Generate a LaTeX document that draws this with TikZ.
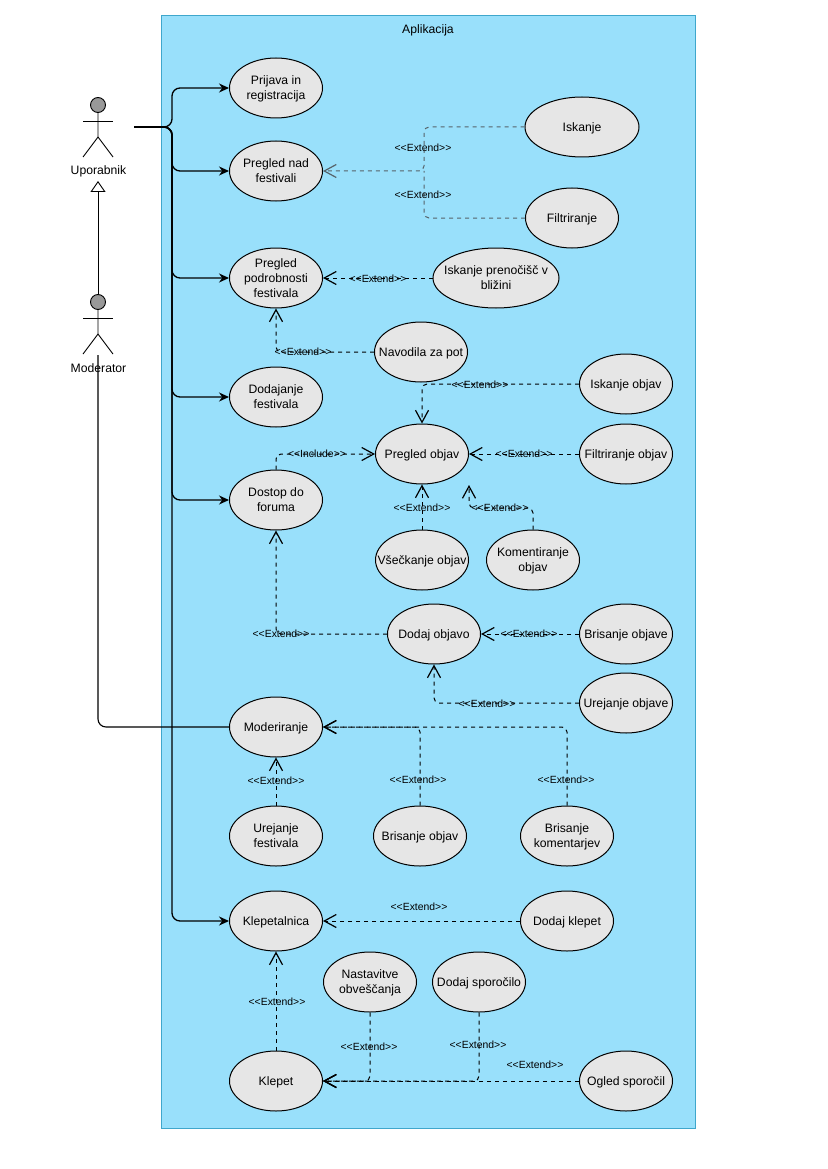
\documentclass[tikz,border=0pt]{standalone}
\usepackage{fontspec}
\setmainfont{Liberation Sans}
\usetikzlibrary{arrows.meta,shapes.geometric}
\definecolor{appblue}{HTML}{99E0FB}
\definecolor{appline}{HTML}{3FA7CC}
\definecolor{casegray}{HTML}{E6E6E6}
\definecolor{headgray}{HTML}{999999}
\definecolor{dimline}{HTML}{56636A}
\newcommand{\extendtxt}{<{}<Extend>{}>}
\newcommand{\includetxt}{<{}<Include>{}>}
\begin{document}
\begin{tikzpicture}[x=1pt,y=-1pt]

    % Styles
    \tikzstyle{usecase} = [ellipse, minimum width=93pt, minimum height=60pt, inner sep=-20pt, text depth=0pt, align=center, draw=black, fill=casegray, line width=1pt, font=\fontsize{12.2}{15}\selectfont]
    \tikzstyle{system} = [rectangle, minimum width=534pt, minimum height=1113pt, draw=appline, fill=appblue, line width=0.8pt]
    \tikzstyle{actorhead} = [circle, minimum size=15pt, inner sep=0pt, draw=black, fill=headgray, line width=0.9pt]
    \tikzstyle{actorname} = [inner sep=0pt, font=\fontsize{12.2}{15}\selectfont]
    \tikzstyle{tag} = [inner sep=0pt, font=\fontsize{10.4}{12}\selectfont]
    \tikzstyle{stick} = [line width=0.9pt]
    \tikzstyle{assoc} = [line width=1.3pt, rounded corners=8pt, -{Stealth[length=10pt,width=9pt]}]
    \tikzstyle{plain} = [line width=1.1pt, rounded corners=8pt]
    \tikzstyle{extendline} = [line width=1pt, rounded corners=5pt, dash pattern=on 4pt off 4pt]
    \tikzstyle{extend} = [extendline, -{Straight Barb[length=12pt,width=13pt,line width=1.2pt]}]
    \tikzstyle{general} = [line width=0.9pt, -{Triangle[open,fill=white,length=11pt,width=15pt]}]

    \useasboundingbox (0,0) rectangle (827,1169);

    % Frame
    \node (app) [system] at (428,571.5) {};
    \node (app-name) [actorname] at (428,30) {Aplikacija};

    % Nodes
    \node (prijava) [usecase] at (276,88) {Prijava in\\registracija};
    \node (pregled-nad) [usecase] at (276,171) {Pregled nad\\festivali};
    \node (podrobnosti) [usecase] at (276,278) {Pregled\\podrobnosti\\festivala};
    \node (dodajanje) [usecase] at (276,397) {Dodajanje\\festivala};
    \node (dostop) [usecase] at (276,500) {Dostop do\\foruma};
    \node (moderiranje) [usecase] at (276,727) {Moderiranje};
    \node (urejanje-fest) [usecase] at (276,836) {Urejanje\\festivala};
    \node (klepetalnica) [usecase] at (276,921) {Klepetalnica};
    \node (klepet) [usecase] at (276,1081) {Klepet};
    \node (iskanje) [usecase, minimum width=114pt] at (582,127) {Iskanje};
    \node (filtriranje) [usecase] at (572,218) {Filtriranje};
    \node (prenocisca) [usecase, minimum width=126pt] at (496,278) {Iskanje prenočišč v\\bližini};
    \node (navodila) [usecase] at (421,352) {Navodila za pot};
    \node (iskanje-obj) [usecase] at (626,384) {Iskanje objav};
    \node (pregled-obj) [usecase] at (422,454) {Pregled objav};
    \node (filter-obj) [usecase] at (626,454) {Filtriranje objav};
    \node (vseckanje) [usecase] at (422,560) {Všečkanje objav};
    \node (komentiranje) [usecase] at (533,560) {Komentiranje\\objav};
    \node (dodaj-obj) [usecase] at (434,634) {Dodaj objavo};
    \node (brisanje-obj) [usecase] at (626,634) {Brisanje objave};
    \node (urejanje-obj) [usecase] at (626,703) {Urejanje objave};
    \node (brisanje-objav) [usecase] at (420,836) {Brisanje objav};
    \node (brisanje-kom) [usecase] at (567,836) {Brisanje\\komentarjev};
    \node (dodaj-klepet) [usecase] at (567,921) {Dodaj klepet};
    \node (nastavitve) [usecase] at (370,982) {Nastavitve\\obveščanja};
    \node (dodaj-sporocilo) [usecase] at (479,982) {Dodaj sporočilo};
    \node (ogled) [usecase] at (626,1081) {Ogled sporočil};

    % Actors
    \node (uporabnik) [actorhead] at (98,105) {};
    \coordinate (upo-hip) at (98,137);
    \coordinate (upo-arm-l) at (83,121);
    \coordinate (upo-arm-r) at (113,121);
    \coordinate (upo-foot-l) at (83,157);
    \coordinate (upo-foot-r) at (113,157);
    \draw [stick] (uporabnik) -- (upo-hip) -- (upo-foot-l);
    \draw [stick] (upo-hip) -- (upo-foot-r);
    \draw [stick] (upo-arm-l) -- (upo-arm-r);
    \node (upo-name) [actorname] at (98.5,171) {Uporabnik};

    \node (moderator) [actorhead] at (98,302) {};
    \coordinate (mod-hip) at (98,334);
    \coordinate (mod-arm-l) at (83,318);
    \coordinate (mod-arm-r) at (113,318);
    \coordinate (mod-foot-l) at (83,354);
    \coordinate (mod-foot-r) at (113,354);
    \draw [stick] (moderator) -- (mod-hip) -- (mod-foot-l);
    \draw [stick] (mod-hip) -- (mod-foot-r);
    \draw [stick] (mod-arm-l) -- (mod-arm-r);
    \node (mod-name) [actorname] at (98.5,368) {Moderator};

    % Helpers
    \coordinate (upo-out) at (134,127);
    \coordinate (bus) at (172,127);
    \coordinate (upo-tip) at (98,181);
    \coordinate (mod-out) at (98,355);
    \coordinate (iskanje-jn) at (424,171);
    \coordinate (kom-jn) at (469,508);
    \coordinate (kom-tip) at (469,485);

    % Arrows
    \draw [assoc] (upo-out) -- (bus) |- (prijava);
    \draw [assoc] (upo-out) -- (bus) |- (pregled-nad);
    \draw [assoc] (upo-out) -- (bus) |- (podrobnosti);
    \draw [assoc] (upo-out) -- (bus) |- (dodajanje);
    \draw [assoc] (upo-out) -- (bus) |- (dostop);
    \draw [assoc] (upo-out) -- (bus) |- (klepetalnica);
    \draw [plain] (mod-out) |- (moderiranje);
    \draw [general] (moderator) -- (upo-tip);

    \draw [extend, draw=dimline] (iskanje) -| (iskanje-jn) -- (pregled-nad);
    \draw [extendline, draw=dimline] (filtriranje) -| (iskanje-jn);
    \draw [extend] (prenocisca) -- (podrobnosti);
    \draw [extend] (navodila) -| (podrobnosti);
    \draw [extend] (iskanje-obj) -| (pregled-obj);
    \draw [extend] (dostop) |- (pregled-obj);
    \draw [extend] (filter-obj) -- (pregled-obj);
    \draw [extend] (vseckanje) -- (pregled-obj);
    \draw [extend] (komentiranje) |- (kom-jn) -- (kom-tip);
    \draw [extend] (dodaj-obj) -| (dostop);
    \draw [extend] (brisanje-obj) -- (dodaj-obj);
    \draw [extend] (urejanje-obj) -| (dodaj-obj);
    \draw [extend] (urejanje-fest) -- (moderiranje);
    \draw [extend] (brisanje-objav) |- (moderiranje);
    \draw [extend] (brisanje-kom) |- (moderiranje);
    \draw [extend] (dodaj-klepet) -- (klepetalnica);
    \draw [extend] (klepet) -- (klepetalnica);
    \draw [extend] (nastavitve) |- (klepet);
    \draw [extend] (dodaj-sporocilo) |- (klepet);
    \draw [extend] (ogled) -- (klepet);

    % Labels
    \node (tag-iskanje) [tag] at (423,148) {\extendtxt};
    \node (tag-filtriranje) [tag] at (423,195) {\extendtxt};
    \node (tag-prenocisca) [tag] at (378,279) {\extendtxt};
    \node (tag-navodila) [tag] at (303,352) {\extendtxt};
    \node (tag-iskanje-obj) [tag] at (480,385) {\extendtxt};
    \node (tag-dostop) [tag] at (317,454) {\includetxt};
    \node (tag-filter-obj) [tag] at (524,454) {\extendtxt};
    \node (tag-vseckanje) [tag] at (422,508) {\extendtxt};
    \node (tag-komentiranje) [tag] at (500,508) {\extendtxt};
    \node (tag-dodaj-obj) [tag] at (281,634) {\extendtxt};
    \node (tag-brisanje-obj) [tag] at (529,634) {\extendtxt};
    \node (tag-urejanje-obj) [tag] at (487,704) {\extendtxt};
    \node (tag-urejanje-fest) [tag] at (276,781) {\extendtxt};
    \node (tag-brisanje-objav) [tag] at (418,780) {\extendtxt};
    \node (tag-brisanje-kom) [tag] at (566,780) {\extendtxt};
    \node (tag-dodaj-klepet) [tag] at (419,907) {\extendtxt};
    \node (tag-klepet) [tag] at (277,1002) {\extendtxt};
    \node (tag-nastavitve) [tag] at (369,1047) {\extendtxt};
    \node (tag-sporocilo) [tag] at (478,1045) {\extendtxt};
    \node (tag-ogled) [tag] at (535,1065) {\extendtxt};

\end{tikzpicture}
\end{document}
